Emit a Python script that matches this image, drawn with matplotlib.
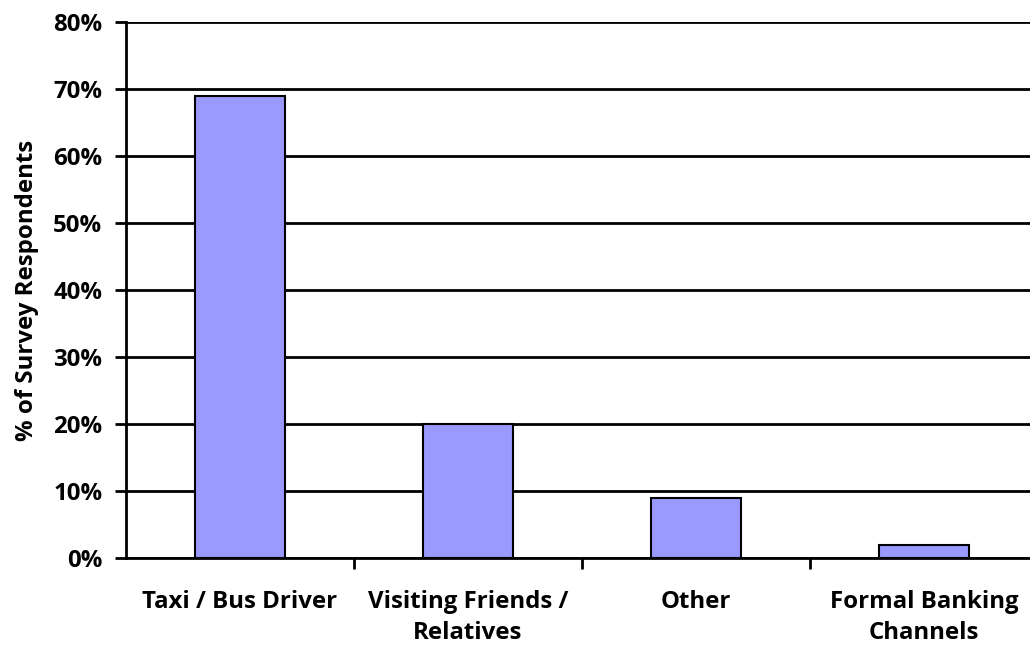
import matplotlib.pyplot as plt
from matplotlib.ticker import FixedLocator

categories = ["Taxi / Bus Driver", "Visiting Friends /\nRelatives", "Other",
              "Formal Banking\nChannels"]
shares = [69, 20, 9, 2]
y_ticks = [0, 10, 20, 30, 40, 50, 60, 70, 80]
y_tick_labels = [f"{v}%" for v in y_ticks]

plt.rcParams['font.family'] = ['Open Sans', 'DejaVu Sans']
plt.rcParams['font.weight'] = 'bold'
FS = 17.3

fig = plt.figure(figsize=(10.30, 6.52), dpi=100)
# axes runs past the right edge, like the cropped original
ax = fig.add_axes([126 / 1030, 1 - 558 / 652, 912 / 1030, 536 / 652])

x = range(len(categories))
ax.bar(x, shares, width=0.395, color="#9999FF", edgecolor="black",
       linewidth=1.5, zorder=3)

ax.set_xlim(-0.5, 3.5)
ax.set_ylim(0, 80)
ax.set_yticks(y_ticks)
ax.set_yticklabels(y_tick_labels, fontsize=FS, fontweight='bold')
ax.grid(axis='y', color='black', linewidth=2, zorder=0)

ax.set_xticks(list(x))
ax.set_xticklabels(categories, fontsize=FS, fontweight='bold', linespacing=1.4)
ax.xaxis.set_minor_locator(FixedLocator([0.5, 1.5, 2.5, 3.5]))
ax.tick_params(axis='x', which='major', length=0, pad=23)
ax.tick_params(axis='x', which='minor', length=8, width=2, direction='out')
ax.tick_params(axis='y', length=8, width=2, direction='out', pad=9)

for side in ['top', 'right']:
    ax.spines[side].set_visible(False)
for side in ['left', 'bottom']:
    ax.spines[side].set_linewidth(2)

ax.set_ylabel("% of Survey Respondents", fontsize=FS, fontweight='bold',
              labelpad=10)

fig.savefig("out.png", dpi=100)
